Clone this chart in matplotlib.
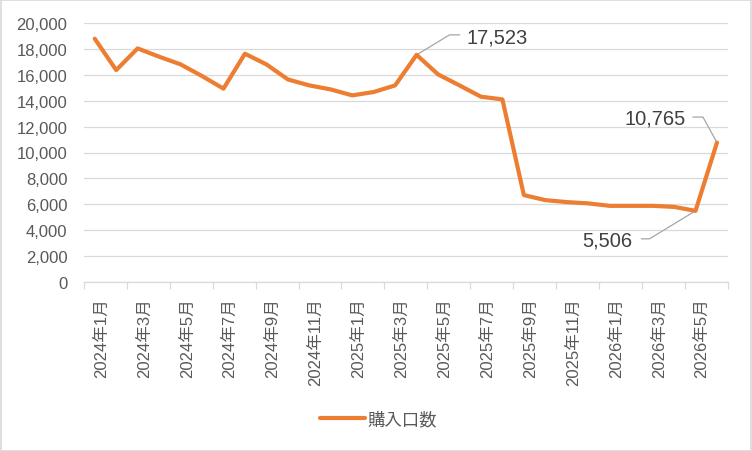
import matplotlib
matplotlib.use("Agg")
import matplotlib.pyplot as plt
from matplotlib.lines import Line2D
from matplotlib.patches import Rectangle
import numpy as np

plt.rcParams['font.family'] = ['Liberation Sans', 'Noto Sans CJK JP', 'DejaVu Sans']

months = [f"{y}年{m}月" for y in (2024, 2025) for m in range(1, 13)] + [f"2026年{m}月" for m in range(1, 7)]
values = [18770, 16350, 18020, 17380, 16790, 15890, 14920, 17610, 16790, 15630,
          15170, 14860, 14400, 14660, 15170, 17523, 16020, 15170, 14300, 14090,
          6720, 6330, 6180, 6080, 5890, 5890, 5890, 5810, 5506, 10765]
series_name = "購入口数"
label_idx = [15, 28, 29]
yticks = list(range(0, 20001, 2000))

W, H = 752, 452
fig = plt.figure(figsize=(W / 100, H / 100), dpi=100)
fig.patch.set_facecolor('white')
fig.patches.append(Rectangle((0.5 / W, 0.5 / H), 1 - 1.5 / W, 1 - 1.5 / H, transform=fig.transFigure,
                             fill=False, edgecolor='#D9D9D9', linewidth=1.2))

ax = fig.add_axes([84 / W, 1 - 283.3 / H, (727.7 - 84) / W, (283.3 - 23.7) / H])
x = np.arange(len(months))
line, = ax.plot(x, values, color='#ED7D31', linewidth=3.0, solid_joinstyle='round',
                solid_capstyle='round', label=series_name, zorder=3)
ax.set_xlim(-0.5, len(months) - 0.5)
ax.set_ylim(0, 20000)

# grid
ax.set_yticks(yticks)
ax.set_yticklabels([f"{v:,}" for v in yticks])
ax.yaxis.grid(True, color='#D9D9D9', linewidth=0.9)
ax.set_axisbelow(True)
for s in ('left', 'right', 'top'):
    ax.spines[s].set_visible(False)
ax.spines['bottom'].set_color('#D9D9D9')
ax.spines['bottom'].set_linewidth(0.9)
ax.tick_params(axis='y', length=0, pad=12, labelsize=12, labelcolor='#595959')

# x ticks: major at boundaries every 2 categories, minor with labels
ax.set_xticks(np.arange(-0.5, len(months), 2))
ax.set_xticklabels([])
ax.tick_params(axis='x', which='major', length=5, color='#D9D9D9', width=0.9)
ax.set_xticks(x[::2] + 0.3, minor=True)
ax.set_xticklabels(months[::2], minor=True, rotation=90, va='top', ha='center')
ax.tick_params(axis='x', which='minor', length=0, pad=10.5, labelsize=12, labelcolor='#595959')

# data labels with leader lines (offsets in pixels)
fig.canvas.draw()
offsets = {
    15: ([(0, 0), (33, 20), (43, 20)], (50, 18), 'left'),
    28: ([(0, 0), (-46, -28), (-54, -28)], (-63, -29), 'right'),
    29: ([(0, 0), (-14, 25.5), (-24, 25.5)], (-31, 25), 'right'),
}
inv = ax.transData.inverted()
for i in label_idx:
    pts, tpos, ha = offsets[i]
    px, py = ax.transData.transform((x[i], values[i]))
    d = inv.transform([(px + dx, py + dy) for dx, dy in pts])
    ax.add_line(Line2D(d[:, 0], d[:, 1], color='#A6A6A6', linewidth=0.9, clip_on=False, zorder=2))
    tx, ty = inv.transform((px + tpos[0], py + tpos[1]))
    ax.text(tx, ty, f"{values[i]:,}", ha=ha, va='center', fontsize=14.5, color='#404040', clip_on=False)

leg = fig.legend(handles=[line], loc='center', bbox_to_anchor=(378.5 / W, 1 - 420 / H),
                 frameon=False, fontsize=12.5, handlelength=2.6, handletextpad=0.15,
                 labelcolor='#595959')

fig.savefig("out.png", dpi=100, facecolor='white')
